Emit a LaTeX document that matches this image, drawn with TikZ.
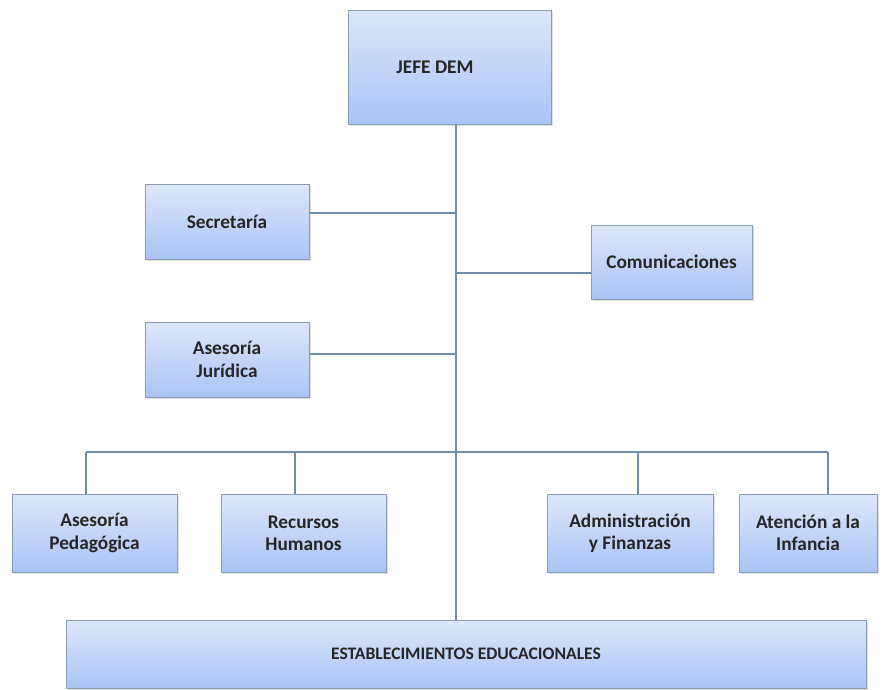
\documentclass[tikz,border=0pt]{standalone}
\usepackage{fontspec}
\setmainfont{Carlito}
\usetikzlibrary{shadows}

\definecolor{boxtop}{HTML}{DDE7F9}
\definecolor{boxbot}{HTML}{A9C4F5}
\definecolor{boxline}{HTML}{8A9DB6}
\definecolor{wire}{HTML}{6F8DAA}

\begin{document}
\begin{tikzpicture}[x=0.03cm,y=-0.03cm,
    unit/.style={draw=boxline, top color=boxtop, bottom color=boxbot,
      drop shadow={opacity=0.25, shadow xshift=2pt, shadow yshift=-2pt},
      font=\fontsize{16.5}{19}\selectfont\bfseries, align=center,
      text=black!85, inner sep=0pt},
    wireline/.style={draw=wire, line width=0.9pt}]
  \clip (0,0) rectangle (893,689);

  % top box
  \node[unit, minimum width=203*0.03cm, minimum height=114*0.03cm] (jefe) at (449.5,67) {};
  \node[font=\fontsize{16.5}{19}\selectfont\bfseries, text=black!85] (jefetxt) at (435,67) {JEFE DEM};

  % staff boxes
  \node[unit, minimum width=164*0.03cm, minimum height=75*0.03cm] (sec) at (227,221.5) {Secretaría};
  \node[unit, minimum width=161*0.03cm, minimum height=74*0.03cm] (com) at (671.5,262) {Comunicaciones};
  \node[unit, minimum width=164*0.03cm, minimum height=75*0.03cm] (jur) at (227,359.5) {Asesoría\\Jurídica};

  % departments
  \node[unit, minimum width=165*0.03cm, minimum height=78*0.03cm] (ped) at (94.5,533) {Asesoría\\Pedagógica};
  \node[unit, minimum width=165*0.03cm, minimum height=78*0.03cm] (rrhh) at (303.5,533) {Recursos\\Humanos};
  \node[unit, minimum width=166*0.03cm, minimum height=78*0.03cm] (adm) at (630,533) {Administración\\y Finanzas};
  \node[unit, minimum width=138*0.03cm, minimum height=78*0.03cm] (inf) at (808,533) {Atención a la\\Infancia};

  % bottom box
  \node[unit, minimum width=800*0.03cm, minimum height=68*0.03cm, font=\fontsize{15}{18}\selectfont\bfseries] (est) at (466,654) {ESTABLECIMIENTOS EDUCACIONALES};

  % trunk, rows and bus
  \coordinate (trunk) at (456,0);
  \coordinate (secrow) at (0,213);
  \coordinate (comrow) at (0,273);
  \coordinate (jurrow) at (0,354);
  \coordinate (pedtop) at (86,452);
  \coordinate (rrhhtop) at (295,452);
  \coordinate (admtop) at (638,452);
  \coordinate (inftop) at (828,452);

  \draw[wireline] (jefe.south -| trunk) -- (est.north -| trunk);
  \draw[wireline] (sec.east |- secrow) -- (trunk |- secrow);
  \draw[wireline] (com.west |- comrow) -- (trunk |- comrow);
  \draw[wireline] (jur.east |- jurrow) -- (trunk |- jurrow);
  \draw[wireline] (pedtop) -- (inftop);
  \foreach \d/\n in {pedtop/ped, rrhhtop/rrhh, admtop/adm, inftop/inf}
    \draw[wireline] (\d) -- (\d |- \n.north);
\end{tikzpicture}
\end{document}
